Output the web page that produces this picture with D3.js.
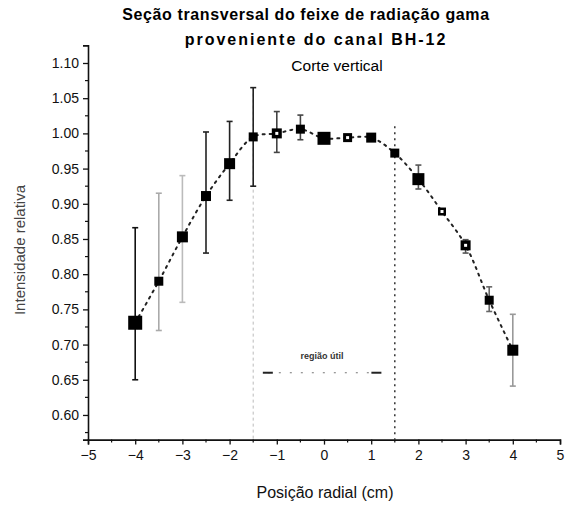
<!DOCTYPE html>
<html>
<head>
<meta charset="utf-8">
<script src="https://cdn.jsdelivr.net/npm/d3@7"></script>
<style>
  html, body { margin: 0; padding: 0; background: #fff; }
  svg { display: block; font-family: "Liberation Sans", Arial, sans-serif; }
</style>
</head>
<body>
<svg id="chart" width="572" height="506"></svg>
<script>
// Radial position of each measurement (cm)
const positions = [-4, -3.5, -3, -2.5, -2, -1.5, -1, -0.5, 0, 0.5, 1, 1.5, 2, 2.5, 3, 3.5, 4];
// Relative intensity at each position
const intensity = [0.731, 0.790, 0.853, 0.911, 0.957, 0.995, 1.000, 1.006, 0.993, 0.994, 0.994, 0.972, 0.935, 0.889, 0.841, 0.763, 0.692];
// Error bar limits (null where no bar is drawn)
const errLow  = [0.650, 0.720, 0.760, 0.830, 0.905, 0.925, 0.973, 0.991, null, null, null, null, 0.921, null, 0.830, 0.747, 0.641];
const errHigh = [0.866, 0.915, 0.940, 1.002, 1.017, 1.065, 1.031, 1.026, null, null, null, null, 0.955, null, 0.849, 0.782, 0.743];
// Edges of the useful beam region (cm)
const regionEdges = [-1.5, 1.5];
// Width marker: span (cm) and level
const widthSpan = [-1.19, 1.11];
const widthLevel = 0.66;
const widthLabel = "região útil";

const xTicks = [-5, -4, -3, -2, -1, 0, 1, 2, 3, 4, 5];
const yTicks = [0.60, 0.65, 0.70, 0.75, 0.80, 0.85, 0.90, 0.95, 1.00, 1.05, 1.10];

const titleLines = ["Seção transversal do feixe de radiação gama", "proveniente do canal BH-12", "Corte vertical"];
const xTitle = "Posição radial (cm)";
const yTitle = "Intensidade relativa";

// Marker appearance per point
const markerPx = [14, 9, 11, 10, 11, 9, 10, 9, 13, 9, 10, 9, 12, 8, 10, 9, 11];
const hollow   = [false, false, false, false, false, false, true, false, false, true, false, false, false, true, true, false, false];
const barTone  = ["#111", "#aaa", "#bbb", "#222", "#222", "#222", "#444", "#444", null, null, null, null, "#555", null, "#555", "#666", "#999"];

const svg = d3.select("#chart");
const x = d3.scaleLinear().domain([-5, 5]).range([88, 560]);
const y = d3.scaleLinear().domain([0.565, 1.125]).range([439.6, 45.4]);

// Axes
const xAxis = d3.axisBottom(x).tickValues(xTicks).tickFormat(d3.format("d")).tickSize(5).tickPadding(5);
const gx = svg.append("g").attr("transform", `translate(0,${y.range()[0]})`).call(xAxis);
gx.select(".domain").attr("stroke", "#111").attr("stroke-width", 1.6);
gx.selectAll(".tick line").attr("stroke", "#111").attr("stroke-width", 1.3);
gx.selectAll("text").attr("font-size", 14).attr("fill", "#111");

const xMinor = d3.range(-4.5, 5, 1);
gx.selectAll(".minor").data(xMinor).enter().append("line")
  .attr("x1", d => x(d)).attr("x2", d => x(d)).attr("y1", 0).attr("y2", 3)
  .attr("stroke", "#111").attr("stroke-width", 1.2);

const yAxis = d3.axisLeft(y).tickValues(yTicks).tickFormat(d3.format(".2f")).tickSize(5).tickPadding(4);
const gy = svg.append("g").attr("transform", `translate(${x.range()[0]},0)`).call(yAxis);
gy.select(".domain").attr("stroke", "#111").attr("stroke-width", 1.6);
gy.selectAll(".tick line").attr("stroke", "#111").attr("stroke-width", 1.3);
gy.selectAll("text").attr("font-size", 14).attr("fill", "#111");

const yMinor = d3.range(0.575, 1.125, 0.05);
gy.selectAll(".minor").data(yMinor).enter().append("line")
  .attr("x1", -3).attr("x2", 0).attr("y1", d => y(d)).attr("y2", d => y(d))
  .attr("stroke", "#111").attr("stroke-width", 1.2);

// Region edges
svg.append("line")
  .attr("x1", x(regionEdges[0])).attr("x2", x(regionEdges[0]))
  .attr("y1", y(1.065)).attr("y2", y.range()[0])
  .attr("stroke", "#bbb").attr("stroke-width", 1).attr("stroke-dasharray", "3,3");
svg.append("line")
  .attr("x1", x(regionEdges[1])).attr("x2", x(regionEdges[1]))
  .attr("y1", y(1.01)).attr("y2", y.range()[0])
  .attr("stroke", "#333").attr("stroke-width", 1.5).attr("stroke-dasharray", "2,4");

// Width marker
svg.append("line")
  .attr("x1", x(widthSpan[0])).attr("x2", x(widthSpan[1]))
  .attr("y1", y(widthLevel)).attr("y2", y(widthLevel))
  .attr("stroke", "#777").attr("stroke-width", 1.2).attr("stroke-dasharray", "2,9");
[widthSpan[0], widthSpan[1]].forEach(v => {
  svg.append("line")
    .attr("x1", x(v) - 5).attr("x2", x(v) + 5)
    .attr("y1", y(widthLevel)).attr("y2", y(widthLevel))
    .attr("stroke", "#222").attr("stroke-width", 2);
});
svg.append("text")
  .attr("x", (x(widthSpan[0]) + x(widthSpan[1])) / 2)
  .attr("y", y(widthLevel) - 14)
  .attr("text-anchor", "middle").attr("font-size", 9).attr("font-weight", "bold").attr("fill", "#333")
  .text(widthLabel);

// Error bars
const pts = positions.map((p, i) => ({p, v: intensity[i], lo: errLow[i], hi: errHigh[i], i}));
const bars = pts.filter(d => d.lo != null);
const gb = svg.append("g");
bars.forEach(d => {
  const c = barTone[d.i];
  gb.append("line").attr("x1", x(d.p)).attr("x2", x(d.p)).attr("y1", y(d.lo)).attr("y2", y(d.hi))
    .attr("stroke", c).attr("stroke-width", 1.6);
  [d.lo, d.hi].forEach(v => gb.append("line")
    .attr("x1", x(d.p) - 3).attr("x2", x(d.p) + 3).attr("y1", y(v)).attr("y2", y(v))
    .attr("stroke", c).attr("stroke-width", 1.6));
});

// Profile curve through the measurements
const line = d3.line().x(d => x(d.p)).y(d => y(d.v)).curve(d3.curveCatmullRom.alpha(0.5));
svg.append("path").datum(pts).attr("d", line)
  .attr("fill", "none").attr("stroke", "#222").attr("stroke-width", 2)
  .attr("stroke-dasharray", "2,5").attr("stroke-linecap", "round");

// Markers
const gm = svg.append("g");
pts.forEach(d => {
  const s = markerPx[d.i];
  gm.append("rect").attr("x", x(d.p) - s / 2).attr("y", y(d.v) - s / 2)
    .attr("width", s).attr("height", s).attr("fill", "#000");
  if (hollow[d.i]) {
    gm.append("rect").attr("x", x(d.p) - 1.5).attr("y", y(d.v) - 1.5)
      .attr("width", 3).attr("height", 3).attr("fill", "#fff");
  }
});

// Titles
svg.append("text").attr("x", 306).attr("y", 20).attr("text-anchor", "middle")
  .attr("font-size", 16).attr("font-weight", "bold").attr("letter-spacing", 0.6).attr("fill", "#000").text(titleLines[0]);
svg.append("text").attr("x", 316).attr("y", 45).attr("text-anchor", "middle")
  .attr("font-size", 16).attr("font-weight", "bold").attr("letter-spacing", 2).attr("fill", "#000").text(titleLines[1]);
svg.append("text").attr("x", 337).attr("y", 71).attr("text-anchor", "middle")
  .attr("font-size", 15.5).attr("fill", "#000").text(titleLines[2]);

svg.append("text").attr("x", (x.range()[0] + x.range()[1]) / 2 + 1).attr("y", 498).attr("text-anchor", "middle")
  .attr("font-size", 16).attr("fill", "#111").text(xTitle);
svg.append("text").attr("transform", "translate(25,250) rotate(-90)").attr("text-anchor", "middle")
  .attr("font-size", 15).attr("fill", "#444").text(yTitle);
</script>
</body>
</html>
